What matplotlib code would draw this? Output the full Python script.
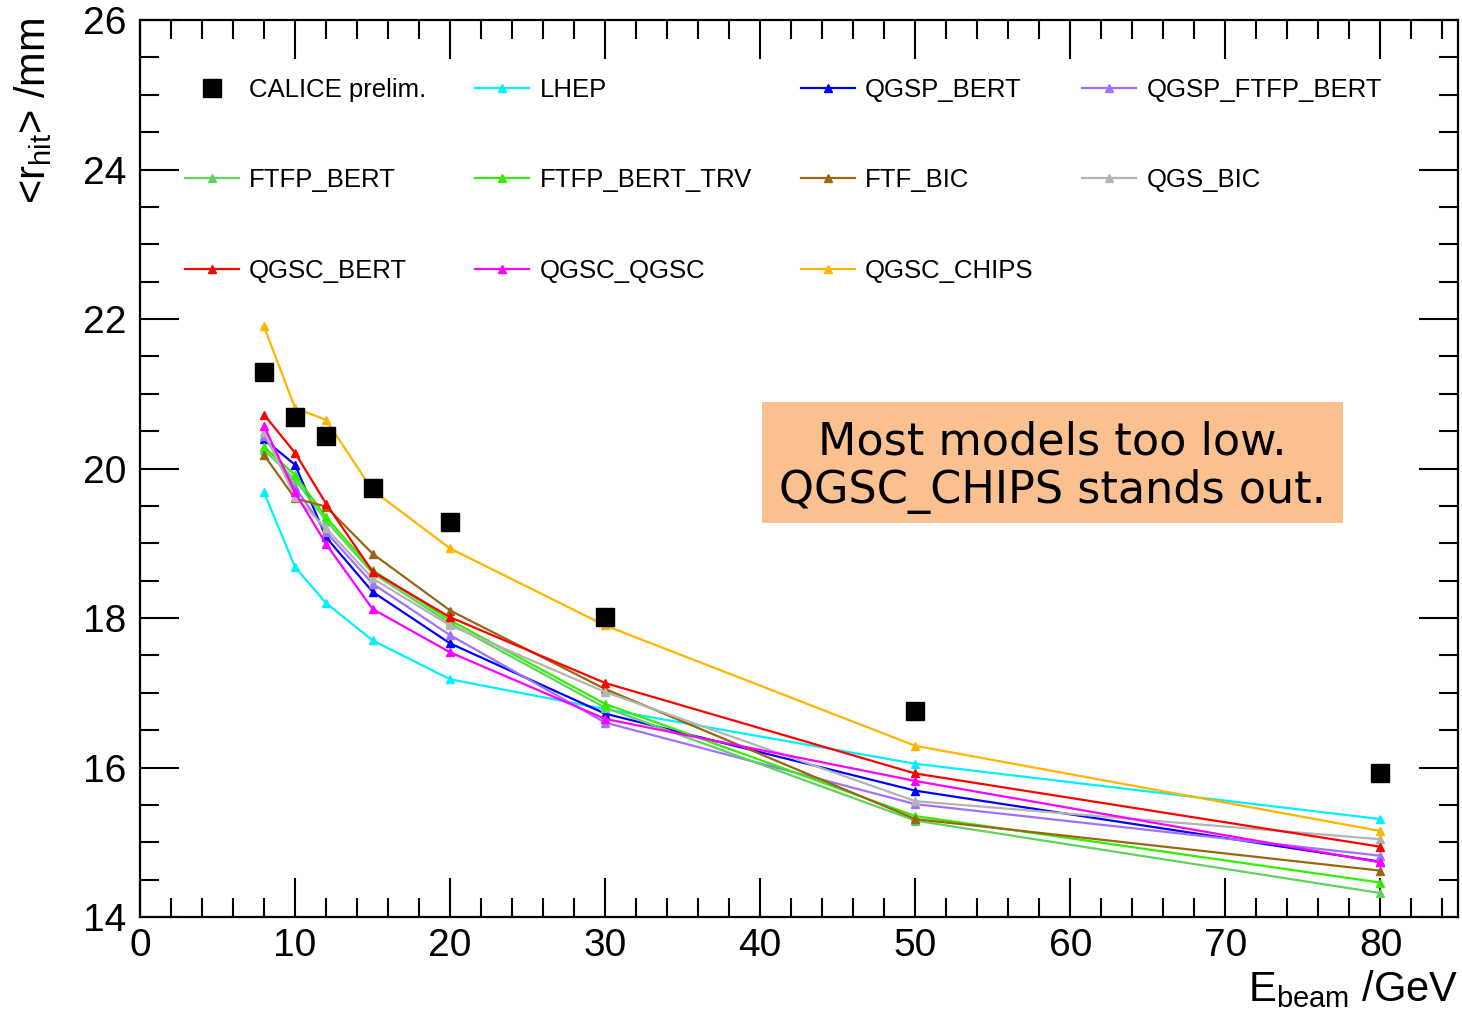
import matplotlib
matplotlib.use('Agg')
import matplotlib.pyplot as plt
from matplotlib.patches import Rectangle
from matplotlib.ticker import MultipleLocator

plt.rcParams['font.family'] = ['Liberation Sans', 'DejaVu Sans']
plt.rcParams['mathtext.default'] = 'regular'

# beam energies (GeV)
energy = [8, 10, 12, 15, 20, 30, 50, 80]

# CALICE data
calice = [21.29, 20.69, 20.43, 19.74, 19.29, 18.02, 16.75, 15.93]

# model predictions
lhep = [19.68, 18.68, 18.20, 17.70, 17.18, 16.78, 16.05, 15.31]
qgsp_bert = [20.39, 20.05, 19.08, 18.35, 17.66, 16.72, 15.69, 14.74]
qgsp_ftfp_bert = [20.44, 19.75, 19.15, 18.46, 17.77, 16.60, 15.51, 14.82]
ftfp_bert = [20.25, 19.85, 19.30, 18.60, 17.93, 16.80, 15.29, 14.32]
ftfp_bert_trv = [20.29, 19.91, 19.35, 18.64, 17.97, 16.85, 15.35, 14.46]
ftf_bic = [20.18, 19.60, 19.49, 18.86, 18.10, 17.05, 15.31, 14.62]
qgs_bic = [20.49, 19.62, 19.20, 18.53, 17.90, 17.01, 15.55, 15.04]
qgsc_bert = [20.72, 20.21, 19.53, 18.62, 18.01, 17.13, 15.92, 14.94]
qgsc_qgsc = [20.57, 19.68, 18.99, 18.12, 17.54, 16.65, 15.82, 14.73]
qgsc_chips = [21.90, 20.81, 20.65, 19.71, 18.93, 17.90, 16.29, 15.15]

models = [
    ('LHEP', lhep, '#00f0ff'),
    ('QGSP_BERT', qgsp_bert, '#0000ff'),
    ('QGSP_FTFP_BERT', qgsp_ftfp_bert, '#a070ff'),
    ('FTFP_BERT', ftfp_bert, '#5fd35f'),
    ('FTFP_BERT_TRV', ftfp_bert_trv, '#33ee00'),
    ('FTF_BIC', ftf_bic, '#996611'),
    ('QGS_BIC', qgs_bic, '#b4b4b4'),
    ('QGSC_BERT', qgsc_bert, '#ff0000'),
    ('QGSC_QGSC', qgsc_qgsc, '#ff00ff'),
    ('QGSC_CHIPS', qgsc_chips, '#ffb400'),
]

fig = plt.figure(figsize=(14.62, 10.13), dpi=100)
ax = fig.add_axes([140 / 1462, 1 - 917 / 1013, 1318 / 1462, 897 / 1013])

handles = {}
for name, vals, col in models:
    h, = ax.plot(energy, vals, color=col, lw=1.6, marker='^', ms=6,
                 label=name)
    handles[name] = h
h, = ax.plot(energy, calice, ls='none', marker='s', ms=13, color='black',
             label='CALICE prelim.')
handles['CALICE prelim.'] = h

ax.set_xlim(0, 85)
ax.set_ylim(14, 26)
ax.xaxis.set_major_locator(MultipleLocator(10))
ax.xaxis.set_minor_locator(MultipleLocator(2))
ax.yaxis.set_major_locator(MultipleLocator(2))
ax.yaxis.set_minor_locator(MultipleLocator(0.5))
ax.tick_params(which='both', direction='in', top=True, right=True,
               width=1.5, labelsize=28)
ax.tick_params(which='major', length=28)
ax.tick_params(which='minor', length=14)
ax.tick_params(axis='x', pad=8)
ax.tick_params(axis='y', pad=10)
for s in ax.spines.values():
    s.set_linewidth(1.6)

# legend: row-major order via column-major filling
order = ['CALICE prelim.', 'FTFP_BERT', 'QGSC_BERT',
         'LHEP', 'FTFP_BERT_TRV', 'QGSC_QGSC',
         'QGSP_BERT', 'FTF_BIC', 'QGSC_CHIPS',
         'QGSP_FTFP_BERT', 'QGS_BIC']
fig.legend([handles[n] for n in order], order, ncol=4, frameon=False,
           loc='upper left', bbox_to_anchor=(185 / 1462, 1 - 78 / 1013),
           fontsize=18.5, numpoints=1, handlelength=2.1, handletextpad=0.4,
           columnspacing=1.9, labelspacing=2.58, borderpad=0, borderaxespad=0)

# annotation box
fig.patches.append(Rectangle((762 / 1462, 1 - 523 / 1013), 581 / 1462, 121 / 1013,
                             transform=fig.transFigure, facecolor='#fac090',
                             edgecolor='none', zorder=5))
fig.text(1052 / 1462, 1 - 467 / 1013, 'Most models too low.\nQGSC_CHIPS stands out.',
         family='DejaVu Sans', fontsize=32, ha='center', va='center',
         linespacing=1.17, zorder=6)

# axis titles
fig.text(33 / 1462, 1 - 18 / 1013, r'<r$_{hit}$> /mm', rotation=90,
         ha='center', va='top', fontsize=30)
fig.text(1458 / 1462, 1 - 1001 / 1013, r'E$_{beam}$ /GeV', ha='right',
         va='baseline', fontsize=30)

fig.savefig('out.png', dpi=100)
